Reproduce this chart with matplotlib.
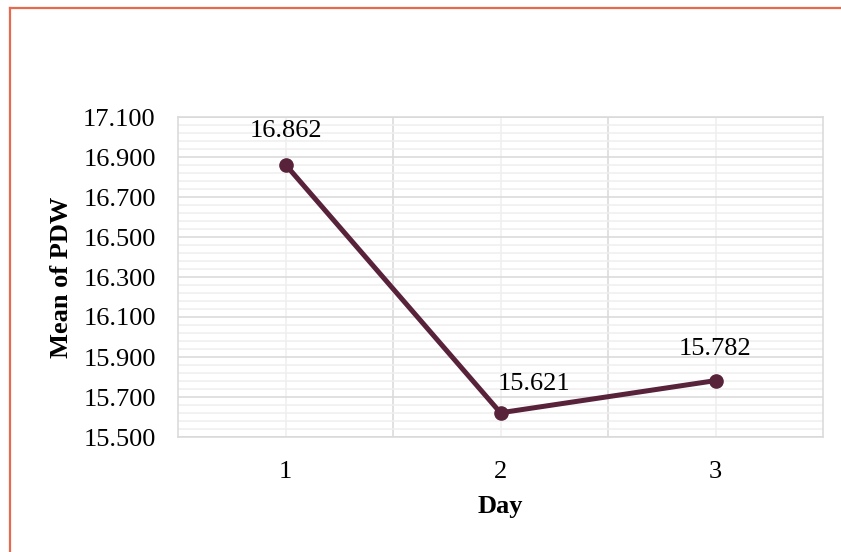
import matplotlib
matplotlib.use("Agg")
import matplotlib.pyplot as plt
from matplotlib.lines import Line2D
from matplotlib.ticker import FixedLocator, NullFormatter, FuncFormatter

# Mean PDW by day
days = [1, 2, 3]
day_labels = ["1", "2", "3"]
mean_pdw = [16.862, 15.621, 15.782]
y_ticks = [15.5, 15.7, 15.9, 16.1, 16.3, 16.5, 16.7, 16.9, 17.1]
# label offsets (points) for each data label
label_dx = [0, 24, 0]
label_dy = [24, 21, 23]

W, H = 841, 552
plt.rcParams["font.family"] = ["Liberation Serif", "DejaVu Serif"]
fig = plt.figure(figsize=(W / 100, H / 100), dpi=100)

# outer frame (left and top edges)
frame_col = "#E56A50"
fig.add_artist(Line2D([9.5 / W, 9.5 / W], [0, 1 - 7.5 / H], transform=fig.transFigure,
                      color=frame_col, lw=1.6))
fig.add_artist(Line2D([9.5 / W, 1], [1 - 7.5 / H, 1 - 7.5 / H], transform=fig.transFigure,
                      color=frame_col, lw=1.6))

left, right, top, bottom = 178, 823, 117, 437
ax = fig.add_axes([left / W, 1 - bottom / H, (right - left) / W, (bottom - top) / H])

ax.set_xlim(0.5, 3.5)
ax.set_ylim(y_ticks[0], y_ticks[-1])

ax.yaxis.set_major_locator(FixedLocator(y_ticks))
minor_y = [a + k * (b - a) / 5 for a, b in zip(y_ticks[:-1], y_ticks[1:]) for k in range(1, 5)]
ax.yaxis.set_minor_locator(FixedLocator(minor_y))
ax.yaxis.set_major_formatter(FuncFormatter(lambda v, p: f"{v:.3f}"))
ax.yaxis.set_minor_formatter(NullFormatter())
ax.xaxis.set_major_locator(FixedLocator(days))
ax.set_xticklabels(day_labels)
ax.xaxis.set_minor_locator(FixedLocator([1.5, 2.5]))
ax.xaxis.set_minor_formatter(NullFormatter())

ax.tick_params(axis="both", which="both", length=0, labelsize=19, colors="black")
ax.tick_params(axis="y", pad=16)
ax.tick_params(axis="x", pad=17)

ax.grid(True, axis="y", which="minor", color="#EFEFEF", lw=1.1, zorder=0)
ax.grid(True, axis="y", which="major", color="#D9D9D9", lw=1.1, zorder=0)
ax.grid(True, axis="x", which="major", color="#EFEFEF", lw=1.1, zorder=0)
ax.grid(True, axis="x", which="minor", color="#D9D9D9", lw=1.1, zorder=0)
ax.set_axisbelow(True)
for s in ax.spines.values():
    s.set_color("#D9D9D9")
    s.set_linewidth(1.1)

line_col = "#58233A"
ax.plot(days, mean_pdw, color=line_col, lw=3.6, marker="o", ms=9.5,
        solid_capstyle="round", zorder=3)

for x, y, dx, dy in zip(days, mean_pdw, label_dx, label_dy):
    ax.annotate(f"{y:.3f}", (x, y), xytext=(dx, dy), textcoords="offset points",
                ha="center", va="center", fontsize=19, color="black")

fig.text(500 / W, 1 - 506 / H, "Day", ha="center", va="center",
         fontsize=19, fontweight="bold")
fig.text(61 / W, 1 - 277 / H, "Mean of PDW", ha="center", va="center",
         rotation=90, fontsize=19, fontweight="bold")

fig.savefig("out.png", dpi=100, facecolor="white")
